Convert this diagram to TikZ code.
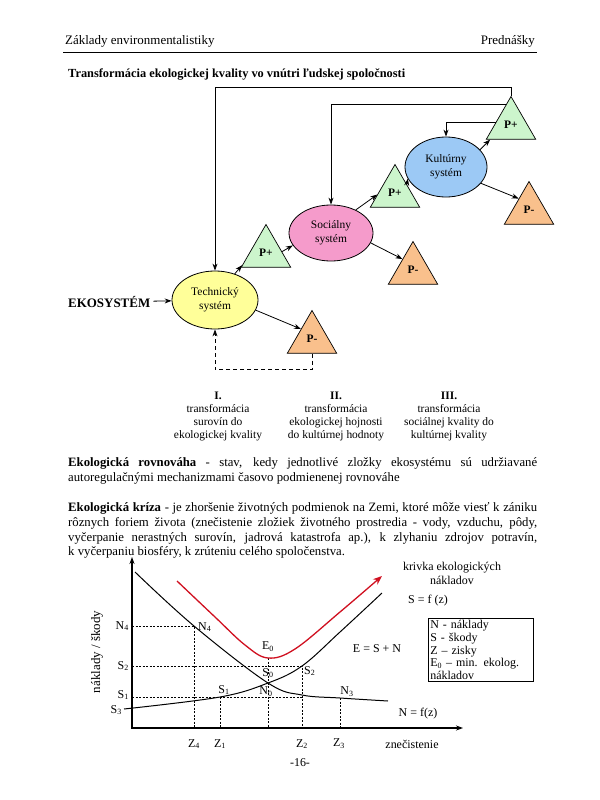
\documentclass[tikz,border=0pt]{standalone}
\usepackage{fontspec}
\setmainfont{Liberation Serif}
\usetikzlibrary{shapes.geometric,arrows.meta,calc}
\definecolor{tyellow}{HTML}{FFFF99}
\definecolor{spink}{HTML}{F59BCB}
\definecolor{kblue}{HTML}{9CC9F5}
\definecolor{pgreen}{HTML}{CCF5CC}
\definecolor{porange}{HTML}{F9C08C}
\definecolor{curvred}{HTML}{D01020}
\begin{document}
\begin{tikzpicture}[x=1bp,y=-1bp,
  every node/.style={inner sep=0pt, font=\fontsize{12}{14}\selectfont},
  sys/.style={ellipse, draw=black, line width=0.8pt, minimum width=86bp, minimum height=58bp, align=center, font=\fontsize{11.5}{14}\selectfont},
  tri/.style={regular polygon, regular polygon sides=3, draw=black, line width=0.7pt, minimum size=57bp, font=\bfseries\fontsize{11.5}{12}\selectfont},
  pplus/.style={tri, fill=pgreen},
  pminus/.style={tri, fill=porange},
  arr/.style={-{Stealth[length=7bp,width=5bp]}, line width=0.8pt},
  dsh/.style={dash pattern=on 4bp off 3bp},
  guide/.style={line width=0.6pt, dash pattern=on 2bp off 1.5bp},
  curve/.style={line width=1pt},
  lbl/.style={font=\fontsize{12}{14}\selectfont},
  col/.style={align=center, anchor=north, font=\fontsize{11.5}{13}\selectfont},
  bodyline/.style={anchor=base west, font=\fontsize{12.8}{15}\selectfont}
]
\fill[white] (0,0) rectangle (600,800);
\useasboundingbox (0,0) rectangle (600,800);

% header
\node[anchor=base west, font=\fontsize{13}{15}\selectfont] (hl) at (65,45) {Základy environmentalistiky};
\node[anchor=base east, font=\fontsize{13}{15}\selectfont] (hr) at (535,45) {Prednášky};
\coordinate (hla) at (63,52);
\coordinate (hlb) at (537,52);
\draw[line width=0.6pt] (hla) -- (hlb);

% title
\node[anchor=base west, font=\bfseries\fontsize{12.4}{14}\selectfont] (title) at (68,78) {Transformácia ekologickej kvality vo vnútri ľudskej spoločnosti};

% systems
\node[sys, fill=tyellow] (tech) at (215,300) {Technický\\systém};
\node[sys, fill=spink, minimum width=84bp, minimum height=56bp] (soc) at (331,233) {Sociálny\\systém};
\node[sys, fill=kblue, minimum width=82bp, minimum height=60bp] (kult) at (446,167) {Kultúrny\\systém};

\node[pplus] (pp1) at (266,253) {P+};
\node[pplus] (pp2) at (395,193) {P+};
\node[pplus] (pp3) at (511,125) {P+};
\node[pminus] (pm1) at (312,339) {P-};
\node[pminus] (pm2) at (413,270) {P-};
\node[pminus] (pm3) at (529,210) {P-};

\node[anchor=west, font=\bfseries\fontsize{13}{15}\selectfont, inner sep=3bp] (eko) at (65,302) {EKOSYSTÉM};

\draw[arr] (eko) -- (tech);
\draw[arr] (tech.53) -- (pp1.207);
\draw[arr] (pp1.5) -- (soc.198);
\draw[arr] (soc.43) -- (pp2.185);
\draw[arr] (pp2.36) -- (kult.197);
\draw[arr] (kult.27) -- (pp3.215);
\draw[arr] (tech.-14) -- (pm1.138);
\draw[arr] (soc.-14) -- (pm2.134);
\draw[arr] (kult.-25) -- (pm3.132);

\draw[arr] (pp3.corner 1) -- ++(0,-8) -| (tech.north);
\draw[arr] ($(pp3.corner 1)!0.2!(pp3.corner 2)$) -| (soc.north);
\draw[arr] ($(pp3.corner 1)!0.6!(pp3.corner 2)$) -| (kult.north);
\draw[arr, dsh] (pm1.south) -- ++(0,16) -| (tech.south);

% columns
\node[col] (c1) at (218,392) {\textbf{I.}\\transformácia\\surovín do\\ekologickej kvality};
\node[col] (c2) at (336,392) {\textbf{II.}\\transformácia\\ekologickej hojnosti\\do kultúrnej hodnoty};
\node[col] (c3) at (449,392) {\textbf{III.}\\transformácia\\sociálnej kvality do\\kultúrnej kvality};

% paragraphs
\node[bodyline] (p1a) at (68,466) {\makebox[469bp][s]{\textbf{Ekologická rovnováha} - stav, kedy jednotlivé zložky ekosystému sú udržiavané}};
\node[bodyline] (p1b) at (68,481) {autoregulačnými mechanizmami časovo podmienenej rovnováhe};
\node[bodyline] (p2a) at (68,511) {\makebox[469bp][s]{\textbf{Ekologická kríza} - je zhoršenie životných podmienok na Zemi, ktoré môže viesť k zániku}};
\node[bodyline] (p2b) at (68,526) {\makebox[469bp][s]{rôznych foriem života (znečistenie zložiek životného prostredia - vody, vzduchu, pôdy,}};
\node[bodyline] (p2c) at (68,541) {\makebox[469bp][s]{vyčerpanie nerastných surovín, jadrová katastrofa ap.), k zlyhaniu zdrojov potravín,}};
\node[bodyline] (p2d) at (68,555) {k vyčerpaniu biosféry, k zrúteniu celého spoločenstva.};

% graph axes
\coordinate (ytop) at (132,557);
\coordinate (xend) at (463,728);
\draw[{Stealth[length=7bp,width=5bp]}-{Stealth[length=7bp,width=5bp]}, line width=1.2pt] (ytop) |- (xend);

% guide coordinates
\coordinate (n4) at (194,626);
\coordinate (s2) at (302,666);
\coordinate (s1) at (220,697);
\coordinate (e0) at (268,658);
\coordinate (n3) at (340,698);
\draw[guide] (132,626) -- (n4) -- (194,728);
\draw[guide] (132,666) -- (s2) -- (302,728);
\draw[guide] (132,697) -- (302,697);
\draw[guide] (s1) -- (220,728);
\draw[guide] (e0) -- (268,728);
\draw[guide] (n3) -- (340,728);

% curves
\draw[curve] plot[smooth, tension=0.6] coordinates {(135,572) (194,626) (268,683) (302,695) (340,698) (388,701)};
\draw[curve] plot[smooth, tension=0.6] coordinates {(124,709) (220,697) (268,683) (302,666) (340,632) (382,593)};
\draw[curvred, line width=1.3pt, -{Stealth[length=9bp,width=7bp]}] plot[smooth, tension=0.6] coordinates {(177,581) (215,617) (245,645) (268,658) (295,649) (340,612) (382,576)};

% labels
\node[lbl, anchor=east] (ln4) at (129,626) {N\textsubscript{4}};
\node[lbl, anchor=east] (ls2) at (129,666) {S\textsubscript{2}};
\node[lbl, anchor=east] (ls1) at (129,695) {S\textsubscript{1}};
\node[lbl, anchor=east] (ls3) at (122,710) {S\textsubscript{3}};
\node[lbl, anchor=west] (cn4) at (198,627) {N\textsubscript{4}};
\node[lbl] (ce0) at (268,647) {E\textsubscript{0}};
\node[lbl] (cs0) at (268,673) {S\textsubscript{0}};
\node[lbl] (cn0) at (266,692) {N\textsubscript{0}};
\node[lbl] (cs1) at (224,690) {S\textsubscript{1}};
\node[lbl, anchor=west] (cs2) at (304,671) {S\textsubscript{2}};
\node[lbl] (cn3) at (347,692) {N\textsubscript{3}};
\node[lbl] (z4) at (194,744) {Z\textsubscript{4}};
\node[lbl] (z1) at (220,744) {Z\textsubscript{1}};
\node[lbl] (z2) at (302,744) {Z\textsubscript{2}};
\node[lbl] (z3) at (339,744) {Z\textsubscript{3}};
\node[lbl] (zn) at (412,744) {znečistenie};
\node[lbl] (pg) at (300,763) {-16-};
\node[lbl, align=center] (kriv) at (452,573) {krivka ekologických\\nákladov};
\node[lbl] (sf) at (428,601) {S = f (z)};
\node[lbl] (esn) at (377,649) {E = S + N};
\node[lbl] (nf) at (418,714) {N = f(z)};
\node[lbl, rotate=90, font=\fontsize{13}{15}\selectfont] (yl) at (97,652) {náklady / škody};
\node[draw, line width=0.7pt, anchor=north west, inner sep=2bp, text width=101bp, align=left, font=\fontsize{12}{12.8}\selectfont] (leg) at (428,618) {N - náklady\\S - škody\\Z – zisky\\E\textsubscript{0} – min. ekolog.\\nákladov};
\end{tikzpicture}
\end{document}
